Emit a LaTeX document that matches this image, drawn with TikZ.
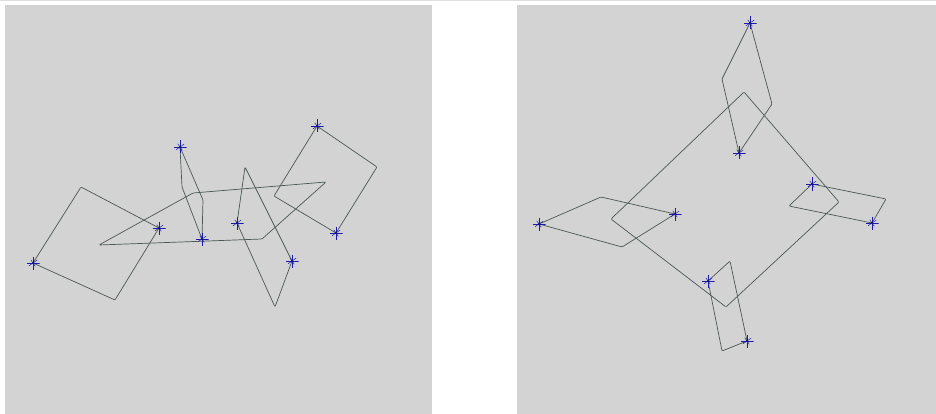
\documentclass[tikz,border=0pt]{standalone}
\usepackage{tikz}
\usepackage{xcolor}
\definecolor{panelgray}{HTML}{D3D3D3}
\definecolor{edgegray}{HTML}{4A5753}
\definecolor{markblue}{HTML}{1C1CA8}

\begin{document}
\begin{tikzpicture}[
    x=1pt, y=-1pt,
    panel/.style={fill=panelgray, draw=none},
    outline/.style={draw=edgegray, line width=0.7pt, rounded corners=1pt, line join=round},
    cross/.style={minimum size=13pt, inner sep=0pt, outer sep=0pt,
      path picture={
        \draw[markblue, line width=0.75pt]
          (path picture bounding box.north) -- (path picture bounding box.south)
          (path picture bounding box.west) -- (path picture bounding box.east);
        \draw[markblue, line width=0.5pt]
          ([shift={(35:5pt)}]path picture bounding box.center) -- ([shift={(215:5pt)}]path picture bounding box.center)
          ([shift={(125:4pt)}]path picture bounding box.center) -- ([shift={(305:4pt)}]path picture bounding box.center);
        \fill[markblue!70!black] (path picture bounding box.center) circle (1.2pt);
      }},
  ]
  \useasboundingbox (0,0) rectangle (936,414);
  \draw[gray!25, line width=0.8pt] (0,0.7) -- (936,0.7);

  % Panels
  \fill[panel] (5,5) rectangle (432,414);
  \fill[panel] (517,5) rectangle (936,414);

  % Left panel: vertices
  \coordinate (la1) at (33,263);  \coordinate (la2) at (81,187);
  \coordinate (la3) at (159,228); \coordinate (la4) at (115,300);
  \coordinate (lp1) at (99,245);  \coordinate (lp2) at (193,193);
  \coordinate (lp3) at (326,182); \coordinate (lp4) at (262,239);
  \coordinate (lb1) at (180,147); \coordinate (lb2) at (182,187);
  \coordinate (lb3) at (202,239); \coordinate (lb4) at (203,200);
  \coordinate (lc1) at (245,167); \coordinate (lc2) at (237,223);
  \coordinate (lc3) at (275,307); \coordinate (lc4) at (292,261);
  \coordinate (ld1) at (317,126); \coordinate (ld2) at (377,167);
  \coordinate (ld3) at (336,233); \coordinate (ld4) at (274,196);

  % Left panel: outlines
  \draw[outline] (la1) -- (la2) -- (la3) -- (la4) -- cycle;
  \draw[outline] (lp1) -- (lp2) -- (lp3) -- (lp4) -- cycle;
  \draw[outline] (lb1) -- (lb2) -- (lb3) -- (lb4) -- cycle;
  \draw[outline] (lc1) -- (lc2) -- (lc3) -- (lc4) -- cycle;
  \draw[outline] (ld1) -- (ld2) -- (ld3) -- (ld4) -- cycle;

  % Right panel: vertices
  \coordinate (rp1) at (744,92);  \coordinate (rp2) at (839,202);
  \coordinate (rp3) at (726,307); \coordinate (rp4) at (611,219);
  \coordinate (ra1) at (750,23);  \coordinate (ra2) at (722,79);
  \coordinate (ra3) at (739,153); \coordinate (ra4) at (772,104);
  \coordinate (rb1) at (539,224); \coordinate (rb2) at (601,197);
  \coordinate (rb3) at (675,214); \coordinate (rb4) at (622,247);
  \coordinate (rc1) at (812,184); \coordinate (rc2) at (886,199);
  \coordinate (rc3) at (872,223); \coordinate (rc4) at (789,206);
  \coordinate (rd1) at (708,281); \coordinate (rd2) at (730,261);
  \coordinate (rd3) at (747,341); \coordinate (rd4) at (722,351);

  % Right panel: outlines
  \draw[outline] (rp1) -- (rp2) -- (rp3) -- (rp4) -- cycle;
  \draw[outline] (ra1) -- (ra2) -- (ra3) -- (ra4) -- cycle;
  \draw[outline] (rb1) -- (rb2) -- (rb3) -- (rb4) -- cycle;
  \draw[outline] (rc1) -- (rc2) -- (rc3) -- (rc4) -- cycle;
  \draw[outline] (rd1) -- (rd2) -- (rd3) -- (rd4) -- cycle;

  % Markers
  \foreach \p in {la1,la3,lb1,lb3,lc2,lc4,ld1,ld3,ra1,ra3,rb1,rb3,rc1,rc3,rd1,rd3}
    \node[cross] (m-\p) at (\p) {};
\end{tikzpicture}
\end{document}
